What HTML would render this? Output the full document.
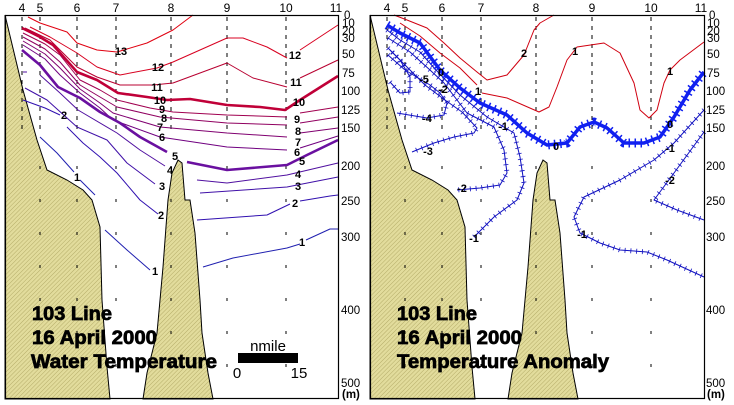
<!DOCTYPE html>
<html><head><meta charset="utf-8"><style>
html,body{margin:0;padding:0;background:#fff;width:734px;height:405px;overflow:hidden}
svg{display:block}
text{font-family:"Liberation Sans",Arial,sans-serif}
</style></head><body>
<svg width="734" height="405" viewBox="0 0 734 405" xmlns="http://www.w3.org/2000/svg">
<defs>
<pattern id="h" width="3" height="3" patternUnits="userSpaceOnUse" patternTransform="rotate(45)">
<rect width="3" height="3" fill="#e2dc9c"/><line x1="0" y1="0" x2="0" y2="3" stroke="#b4ac68" stroke-width="1"/></pattern>
<g id="land" fill="url(#h)" stroke="#000" stroke-width="1">
<path d="M5,15 L23,90 L37,140 L47,170 L67,180 L83,190 L92,200 L100,227 L102,300 L107,367 L110,399 L5,399 Z"/>
<path d="M143,399 L147,373 L157,333 L163,267 L168,200 L172,173 L178,160 L182,163 L185,200 L190,200 L195,233 L200,300 L202,333 L208,373 L213,399 Z"/>
</g>
<g id="grid" stroke="#000" stroke-width="1" fill="none">
<g stroke-dasharray="4 5">
<line x1="22" y1="17" x2="22" y2="132"/><line x1="40" y1="17" x2="40" y2="132"/><line x1="77" y1="17" x2="77" y2="132"/><line x1="116" y1="17" x2="116" y2="132"/><line x1="171" y1="17" x2="171" y2="132"/><line x1="227" y1="17" x2="227" y2="132"/><line x1="286" y1="17" x2="286" y2="132"/>
</g>
<g stroke-dasharray="3 30" stroke-dashoffset="-3">
<line x1="40" y1="163" x2="40" y2="386"/><line x1="77" y1="163" x2="77" y2="386"/><line x1="116" y1="163" x2="116" y2="386"/><line x1="171" y1="163" x2="171" y2="386"/><line x1="227" y1="163" x2="227" y2="386"/><line x1="286" y1="163" x2="286" y2="386"/>
</g>
</g>
<g id="axis" font-size="12" fill="#000">
<text x="22" y="12" text-anchor="middle">4</text><text x="40" y="12" text-anchor="middle">5</text><text x="77" y="12" text-anchor="middle">6</text><text x="116" y="12" text-anchor="middle">7</text><text x="171" y="12" text-anchor="middle">8</text><text x="227" y="12" text-anchor="middle">9</text><text x="286" y="12" text-anchor="middle">10</text><text x="336" y="12" text-anchor="middle">11</text>
<g font-size="11.5">
<text x="344" y="19">0</text><text x="342" y="27">10</text><text x="342" y="35">20</text><text x="342" y="42">30</text><text x="342" y="58">50</text><text x="342" y="77">75</text><text x="341" y="95">100</text><text x="341" y="114">125</text><text x="341" y="132">150</text><text x="341" y="170">200</text><text x="341" y="205">250</text><text x="341" y="241">300</text><text x="341" y="314">400</text><text x="341" y="387">500</text>
<text x="342" y="398" font-weight="bold">(m)</text></g>
</g>
</defs>

<!-- LEFT PANEL -->
<use href="#land"/>
<use href="#grid"/>
<use href="#axis"/>
<g fill="none" stroke-linejoin="round">
<path d="M28,17 L40,23 L67,32 L77,43 L97,50 L117,52 L147,43 L173,30 L193,15" stroke="#e00010" stroke-width="1"/>
<path d="M30,27 L50,37 L77,53 L97,67 L120,75 L157,68 L173,62 L200,50 L227,38 L243,38 L267,47 L287,58 M300,50 L338,25" stroke="#d80020" stroke-width="1"/>
<path d="M25,28 L50,40 L77,67 L97,77 L120,85 L153,85 L173,83 L200,73 L227,63 L253,78 L287,87 M300,78 L338,60" stroke="#b80030" stroke-width="1"/>
<path d="M22,28 L40,37 L53,45 L77,72 L97,80 L118,93 L147,97 L167,100 L190,99 L227,105 L260,107 L285,110 L300,100 L338,76" stroke="#c00038" stroke-width="2.6"/>
<path d="M23,33 L45,44 L60,55 L80,80 L100,90 L117,100 L150,108 L173,112 L227,115 L287,117 M300,113 L338,107" stroke="#a00050" stroke-width="1"/>
<path d="M23,37 L45,49 L60,62 L80,85 L100,97 L117,107 L160,117 L227,123 L287,125 M300,123 L338,117" stroke="#900060" stroke-width="1"/>
<path d="M23,41 L45,54 L60,68 L80,89 L100,103 L113,113 L160,127 L227,133 L287,137 M300,133 L338,128" stroke="#800070" stroke-width="1"/>
<path d="M23,45 L45,59 L60,75 L80,93 L100,108 L113,120 L160,137 L227,147 L287,150 M300,148 L338,136" stroke="#700080" stroke-width="1"/>
<path d="M22,50 L40,65 L58,87 L80,98 L100,112 L120,123 L140,137 L167,152 M187,162 L227,170 L287,165 L307,155 L338,140" stroke="#6a10a0" stroke-width="2.6"/>
<path d="M23,72 L27,72 M40,75 L60,93 L78,110 L117,133 L140,150 L165,166 M197,180 L227,183 L287,175 L338,163" stroke="#5010a0" stroke-width="1"/>
<path d="M25,88 L47,100 L77,127 L107,140 L127,163 L155,184 M200,193 L287,187 L338,177" stroke="#4010a8" stroke-width="1"/>
<path d="M23,100 L45,108 L60,115 M67,127 L83,143 L100,157 L117,173 L140,200 L158,214 M197,220 L267,215 L290,204 M300,201 L330,196 L338,195" stroke="#3010b0" stroke-width="1"/>
<path d="M40,137 L57,153 L74,172 M80,180 L95,195 M105,230 L127,250 L150,270 M203,267 L233,258 L287,248 L300,244 M306,240 L330,229 L338,229" stroke="#2020b0" stroke-width="1"/>
</g>
<g font-size="11" font-weight="bold" fill="#000" text-anchor="middle">
<text x="121" y="55">13</text><text x="158" y="71">12</text><text x="295" y="59">12</text><text x="157" y="91">11</text><text x="296" y="86">11</text><text x="160" y="104">10</text><text x="299" y="106">10</text>
<text x="162" y="113">9</text><text x="297" y="123">9</text><text x="164" y="122">8</text><text x="298" y="135">8</text><text x="160" y="131">7</text><text x="298" y="146">7</text><text x="162" y="141">6</text><text x="297" y="156">6</text><text x="175" y="160">5</text><text x="302" y="165">5</text>
<text x="170" y="174">4</text><text x="298" y="178">4</text><text x="162" y="190">3</text><text x="298" y="190">3</text><text x="64" y="119">2</text><text x="161" y="219">2</text><text x="295" y="207">2</text><text x="77" y="181">1</text><text x="155" y="275">1</text><text x="302" y="246">1</text>
</g>
<g font-size="19" font-weight="bold" fill="#000" stroke="#000" stroke-width="0.7">
<text x="32" y="320" textLength="80" lengthAdjust="spacingAndGlyphs">103 Line</text>
<text x="32" y="344" textLength="125" lengthAdjust="spacingAndGlyphs">16 April 2000</text>
<text x="31" y="368" textLength="186" lengthAdjust="spacingAndGlyphs">Water Temperature</text>
</g>
<text x="268" y="351" font-size="15" text-anchor="middle">nmile</text>
<rect x="238" y="353" width="60" height="10" fill="#000"/>
<text x="237" y="378" font-size="15" text-anchor="middle">0</text>
<text x="299" y="378" font-size="15" text-anchor="middle">15</text>
<rect x="5.5" y="15.5" width="333" height="383" fill="none" stroke="#000" stroke-width="1.2"/>

<!-- RIGHT PANEL -->
<g transform="translate(365,0)"><use href="#land"/><use href="#grid"/><use href="#axis"/></g>
<g fill="none" stroke-linejoin="round">
<path d="M394,15 L407,20 L427,28 L444,43 L460,58 L477,72 L487,80 L507,75 L524,55 L534,30 L540,23 L554,15" stroke="#d00010" stroke-width="1"/>
<path d="M400,23 L420,36 L440,53 L460,68 L477,85 M482,93 L507,98 L539,112 L549,107 L557,87 L567,60 L577,47 L604,43 L620,53 L634,83 L640,110 L649,118 L657,110 L664,83 L670,70 L680,60 L704,42" stroke="#d00010" stroke-width="1"/>
<g stroke="#1010c0">
<path d="M387,30 L400,40 L420,52 L436,70 L460,95 L487,117 L514,133 L520,157 L524,183 L517,200 L494,217 L474,237" stroke-width="1"/>
<path d="M387,30 L400,40 L420,52 L436,70 L460,95 L487,117 L514,133 L520,157 L524,183 L517,200 L494,217 L474,237" stroke-width="5" stroke-dasharray="0.8 5"/>
<path d="M388,38 L410,52 L430,70 L444,83 L467,113 L494,127 L504,150 L507,173 L500,185 L480,188 L457,190" stroke-width="1"/>
<path d="M388,38 L410,52 L430,70 L444,83 L467,113 L494,127 L504,150 L507,173 L500,185 L480,188 L457,190" stroke-width="5" stroke-dasharray="0.8 5"/>
<path d="M388,48 L405,65 L425,85 L445,100 L462,112 L477,128 L474,133 L454,137 L434,143 L412,152" stroke-width="1"/>
<path d="M388,48 L405,65 L425,85 L445,100 L462,112 L477,128 L474,133 L454,137 L434,143 L412,152" stroke-width="5" stroke-dasharray="0.8 5"/>
<path d="M388,55 L405,70 L430,85 L440,93 L447,103 L444,115 L427,118 L397,113" stroke-width="1"/>
<path d="M388,55 L405,70 L430,85 L440,93 L447,103 L444,115 L427,118 L397,113" stroke-width="5" stroke-dasharray="0.8 5"/>
<path d="M390,82 L400,93 L410,92 L410,77 L400,60 L390,50" stroke-width="1"/>
<path d="M390,82 L400,93 L410,92 L410,77 L400,60 L390,50" stroke-width="5" stroke-dasharray="0.8 5"/>
<path d="M704,110 L674,143 L654,160 L620,180 L584,197 L574,217 L580,233 L600,243 L620,250 L647,252 L667,260 L704,277" stroke-width="1"/>
<path d="M704,110 L674,143 L654,160 L620,180 L584,197 L574,217 L580,233 L600,243 L620,250 L647,252 L667,260 L704,277" stroke-width="5" stroke-dasharray="0.8 5"/>
<path d="M704,132 L674,173 L654,200 L677,210 L704,220" stroke-width="1"/>
<path d="M704,132 L674,173 L654,200 L677,210 L704,220" stroke-width="5" stroke-dasharray="0.8 5"/>
</g>
<path d="M387,25 L400,33 L420,43 L440,70 L460,88 L480,103 L507,115 L527,133 L547,145 L567,143 L580,127 L594,122 L607,128 L624,143 L644,143 L660,137 L674,117 L690,90 L704,72" stroke="#1020f0" stroke-width="3.5"/>
<path d="M387,25 L400,33 L420,43 L440,70 L460,88 L480,103 L507,115 L527,133 L547,145 L567,143 L580,127 L594,122 L607,128 L624,143 L644,143 L660,137 L674,117 L690,90 L704,72" stroke="#1020f0" stroke-width="9" stroke-dasharray="1.5 4.5"/>
</g>
<g font-size="11" font-weight="bold" fill="#000" text-anchor="middle">
<text x="524" y="57">2</text><text x="575" y="55">1</text><text x="670" y="75">1</text><text x="478" y="95">1</text>
<text x="441" y="76">0</text><text x="556" y="150">0</text><text x="670" y="128">0</text>
<text x="424" y="83">-5</text><text x="443" y="93">-2</text><text x="427" y="122">-4</text><text x="428" y="155">-3</text><text x="503" y="130">-1</text><text x="462" y="192">-2</text><text x="474" y="242">-1</text><text x="670" y="152">-1</text><text x="670" y="184">-2</text><text x="582" y="238">-1</text>
</g>
<g font-size="19" font-weight="bold" fill="#000" stroke="#000" stroke-width="0.7">
<text x="397" y="320" textLength="80" lengthAdjust="spacingAndGlyphs">103 Line</text>
<text x="397" y="344" textLength="125" lengthAdjust="spacingAndGlyphs">16 April 2000</text>
<text x="397" y="368" textLength="212" lengthAdjust="spacingAndGlyphs">Temperature Anomaly</text>
</g>
<rect x="370.5" y="15.5" width="334" height="383" fill="none" stroke="#000" stroke-width="1.2"/>
</svg>
</body></html>
